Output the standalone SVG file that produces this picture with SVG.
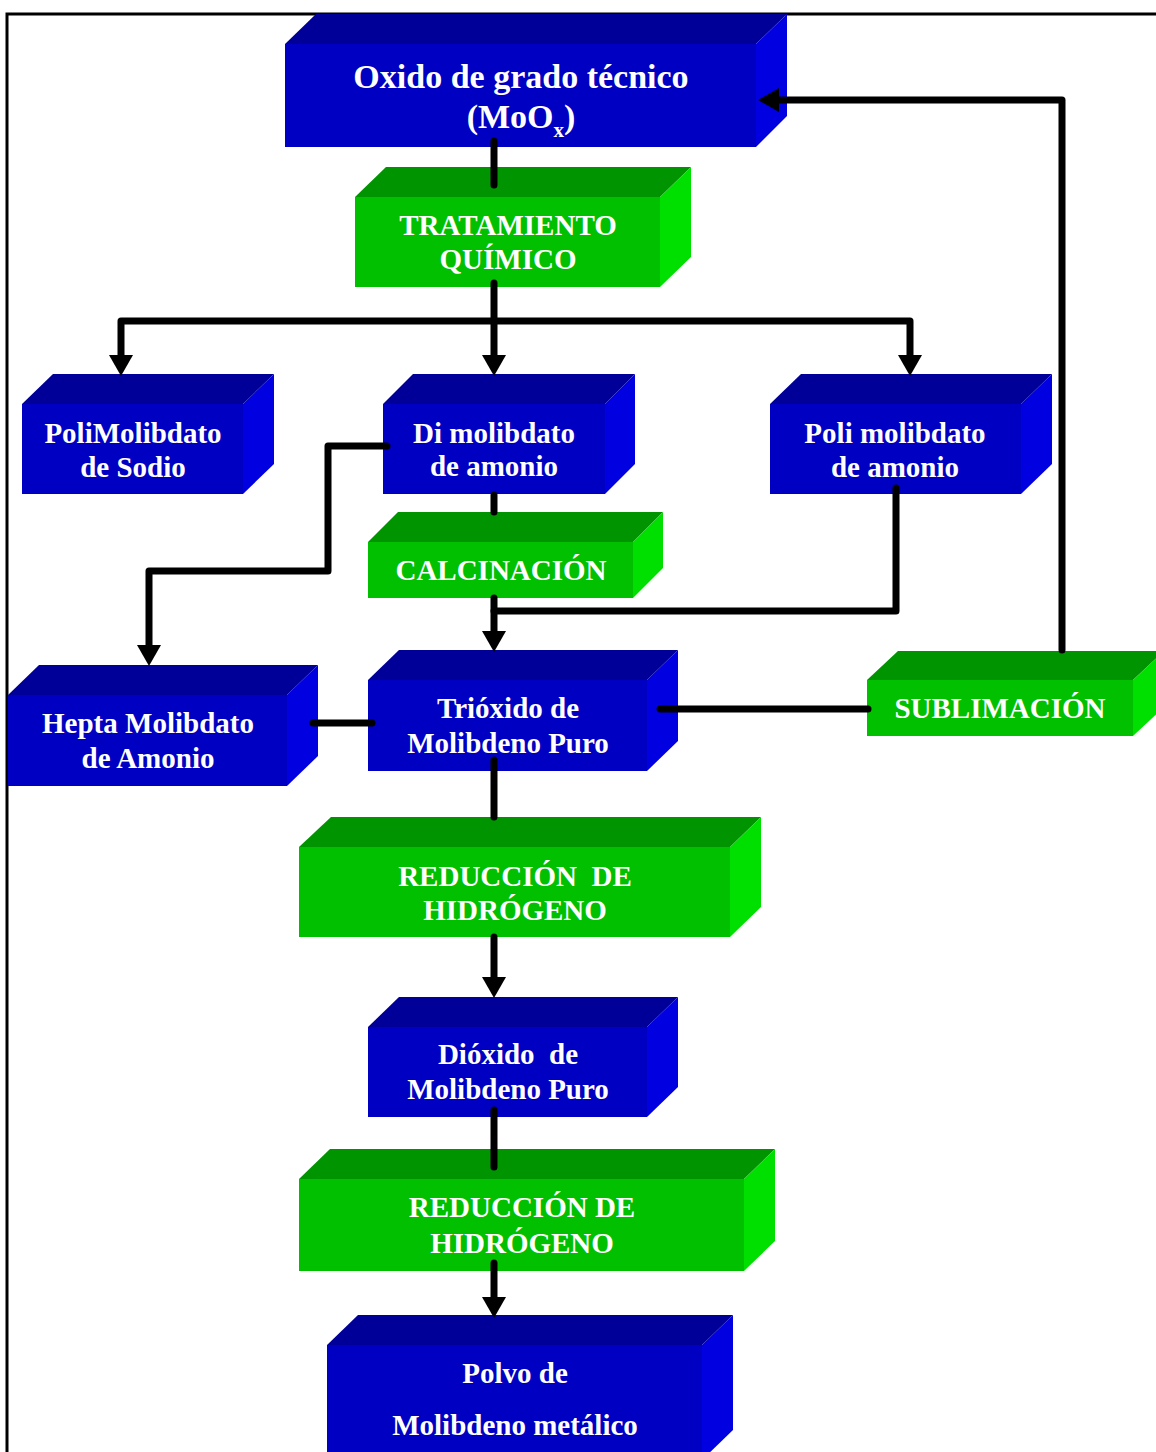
<svg xmlns="http://www.w3.org/2000/svg" width="1156" height="1452" viewBox="0 0 1156 1452">
<style>
.bf{fill:#0000C2}.bt{fill:#000099}.br{fill:#0000E0}
.gf{fill:#00C000}.gt{fill:#009400}.gr{fill:#00E000}
.t{font-family:"Liberation Serif","Times New Roman",serif;font-weight:bold;fill:#fff;font-size:29px;text-anchor:middle;white-space:pre}
.c{fill:none;stroke:#000;stroke-width:7;stroke-linecap:round;stroke-linejoin:round}
</style>
<defs>
<marker id="ah" markerUnits="userSpaceOnUse" viewBox="0 -12 21 24" markerWidth="21" markerHeight="24" refX="0" refY="0" orient="auto">
<path d="M0,-12 L21,0 L0,12 Z" fill="#000"/>
</marker>
</defs>
<rect width="1156" height="1452" fill="#fff"/>
<rect x="7" y="14" width="1170" height="1460" fill="none" stroke="#000" stroke-width="3"/>

<g id="oxido">
<polygon class="bt" points="285,44 316,14 787,14 756,44"/>
<polygon class="br" points="756,44 787,14 787,116 756,147"/>
<rect class="bf" x="285" y="44" width="471" height="103"/>
<text class="t" style="font-size:34px" x="521" y="88">Oxido de grado técnico</text>
<text class="t" style="font-size:34px" x="521" y="128">(MoO<tspan style="font-size:21px" dy="9">x</tspan><tspan dy="-9">)</tspan></text>
</g>

<g id="tratamiento">
<polygon class="gt" points="355,197 386,167 691,167 660,197"/>
<polygon class="gr" points="660,197 691,167 691,257 660,287"/>
<rect class="gf" x="355" y="197" width="305" height="90"/>
<text class="t" x="508" y="235">TRATAMIENTO</text>
<text class="t" x="508" y="269">QUÍMICO</text>
</g>

<g id="polisodio">
<polygon class="bt" points="22,404 53,374 274,374 243,404"/>
<polygon class="br" points="243,404 274,374 274,464 243,494"/>
<rect class="bf" x="22" y="404" width="221" height="90"/>
<text class="t" x="133" y="443">PoliMolibdato</text>
<text class="t" x="133" y="477">de Sodio</text>
</g>

<g id="dimolibdato">
<polygon class="bt" points="383,404 413,374 635,374 605,404"/>
<polygon class="br" points="605,404 635,374 635,464 605,494"/>
<rect class="bf" x="383" y="404" width="222" height="90"/>
<text class="t" x="494" y="443">Di molibdato</text>
<text class="t" x="494" y="476">de amonio</text>
</g>

<g id="polimolibdato">
<polygon class="bt" points="770,404 801,374 1052,374 1021,404"/>
<polygon class="br" points="1021,404 1052,374 1052,464 1021,494"/>
<rect class="bf" x="770" y="404" width="251" height="90"/>
<text class="t" x="895" y="443">Poli molibdato</text>
<text class="t" x="895" y="477">de amonio</text>
</g>

<g id="calcinacion">
<polygon class="gt" points="368,542 398,512 663,512 633,542"/>
<polygon class="gr" points="633,542 663,512 663,568 633,598"/>
<rect class="gf" x="368" y="542" width="265" height="56"/>
<text class="t" x="501" y="580">CALCINACIÓN</text>
</g>

<g id="hepta">
<polygon class="bt" points="8,695 39,665 318,665 287,695"/>
<polygon class="br" points="287,695 318,665 318,756 287,786"/>
<rect class="bf" x="8" y="695" width="279" height="91"/>
<text class="t" x="148" y="733">Hepta Molibdato</text>
<text class="t" x="148" y="768">de Amonio</text>
</g>

<g id="trioxido">
<polygon class="bt" points="368,680 399,650 678,650 647,680"/>
<polygon class="br" points="647,680 678,650 678,741 647,771"/>
<rect class="bf" x="368" y="680" width="279" height="91"/>
<text class="t" x="508" y="718">Trióxido de</text>
<text class="t" x="508" y="753">Molibdeno Puro</text>
</g>

<g id="sublimacion">
<polygon class="gt" points="867,680 898,651 1164,651 1133,680"/>
<polygon class="gr" points="1133,680 1164,651 1164,707 1133,736"/>
<rect class="gf" x="867" y="680" width="266" height="56"/>
<text class="t" x="1000" y="718">SUBLIMACIÓN</text>
</g>

<g id="reduccion1">
<polygon class="gt" points="299,847 331,817 761,817 730,847"/>
<polygon class="gr" points="730,847 761,817 761,907 730,937"/>
<rect class="gf" x="299" y="847" width="431" height="90"/>
<text class="t" x="515" y="886">REDUCCIÓN  DE</text>
<text class="t" x="515" y="920">HIDRÓGENO</text>
</g>

<g id="dioxido">
<polygon class="bt" points="368,1027 399,997 678,997 647,1027"/>
<polygon class="br" points="647,1027 678,997 678,1087 647,1117"/>
<rect class="bf" x="368" y="1027" width="279" height="90"/>
<text class="t" x="508" y="1064">Dióxido  de</text>
<text class="t" x="508" y="1099">Molibdeno Puro</text>
</g>

<g id="reduccion2">
<polygon class="gt" points="299,1179 330,1149 775,1149 744,1179"/>
<polygon class="gr" points="744,1179 775,1149 775,1241 744,1271"/>
<rect class="gf" x="299" y="1179" width="445" height="92"/>
<text class="t" x="522" y="1217">REDUCCIÓN DE</text>
<text class="t" x="522" y="1253">HIDRÓGENO</text>
</g>

<g id="polvo">
<polygon class="bt" points="327,1345 358,1315 733,1315 702,1345"/>
<polygon class="br" points="702,1345 733,1315 733,1430 702,1460"/>
<rect class="bf" x="327" y="1345" width="375" height="115"/>
<text class="t" x="515" y="1383">Polvo de</text>
<text class="t" x="515" y="1435">Molibdeno metálico</text>
</g>

<g id="connectors">
<path class="c" d="M494,141 V185"/>
<path class="c" d="M494,283 V355" marker-end="url(#ah)"/>
<path class="c" d="M494,321 H121 V355" marker-end="url(#ah)"/>
<path class="c" d="M494,321 H910 V355" marker-end="url(#ah)"/>
<path class="c" d="M387,446 H328 V571 H149 V645" marker-end="url(#ah)"/>
<path class="c" d="M494,495 V512"/>
<path class="c" d="M494,598 V631" marker-end="url(#ah)"/>
<path class="c" d="M896,488 V611 H494"/>
<path class="c" d="M313,723 H372"/>
<path class="c" d="M660,709 H868"/>
<path class="c" d="M1062,650 V100 H779" marker-end="url(#ah)"/>
<path class="c" d="M494,760 V817"/>
<path class="c" d="M494,937 V977" marker-end="url(#ah)"/>
<path class="c" d="M494,1110 V1167"/>
<path class="c" d="M494,1263 V1297" marker-end="url(#ah)"/>
</g>
</svg>
